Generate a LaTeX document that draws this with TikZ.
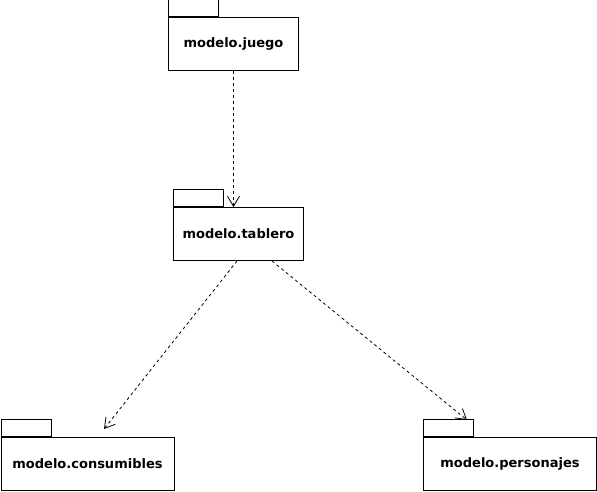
\documentclass[tikz,border=0pt]{standalone}
\usepackage{fontspec}
\setmainfont{DejaVu Sans}
\usetikzlibrary{arrows.meta,calc}
\begin{document}
\begin{tikzpicture}[x=1pt,y=-1pt,
  pkgbody/.style={draw=black,line width=1pt,minimum width=130pt,minimum height=53pt,inner sep=0pt,anchor=north west,font=\fontsize{13}{15}\selectfont\bfseries},
  pkgtab/.style={draw=black,line width=1pt,minimum width=50pt,minimum height=17pt,inner sep=0pt,anchor=south west},
  dep/.style={draw=black,line width=0.8pt,dash pattern=on 3pt off 3pt,-{Straight Barb[length=10pt,width=12pt,line width=0.8pt]}}]
\useasboundingbox (0,0) rectangle (597,491);
% packages
\node[pkgbody] (juego) at (168,17) {modelo.juego};
\node[pkgtab] (juegotab) at (juego.north west) {};
\node[pkgbody] (tablero) at (173,207) {modelo.tablero};
\node[pkgtab] (tablerotab) at (tablero.north west) {};
\node[pkgbody,minimum width=173pt] (consumibles) at (0.5,437) {modelo.consumibles};
\node[pkgtab] (consumiblestab) at (consumibles.north west) {};
\node[pkgbody,minimum width=173pt] (personajes) at (423,437) {modelo.personajes};
\node[pkgtab] (personajestab) at (personajes.north west) {};
% connector endpoints
\coordinate (t1) at ($(tablero.south west)+(64,0)$);
\coordinate (t2) at ($(tablero.south west)+(99,0)$);
\coordinate (c1) at (104,429);
\coordinate (p1) at (467,420);
\draw[dep] (juego.south) -- (juego.south |- tablero.north);
\draw[dep] (t1) -- (c1);
\draw[dep] (t2) -- (p1);
\end{tikzpicture}
\end{document}
